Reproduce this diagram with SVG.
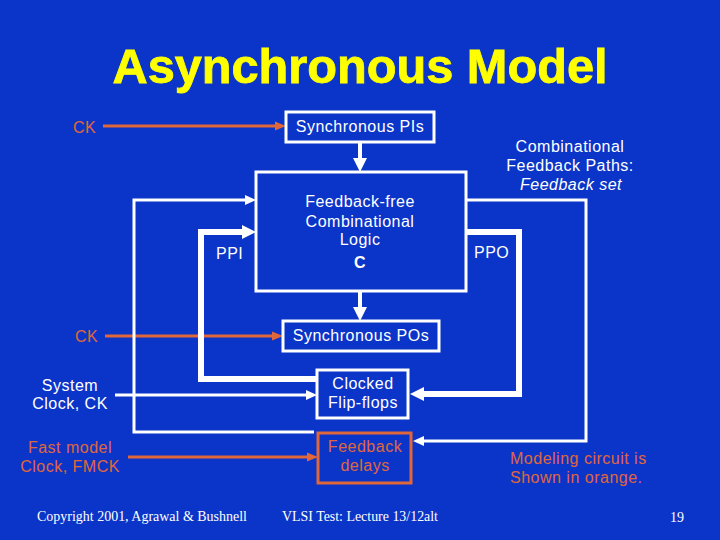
<svg xmlns="http://www.w3.org/2000/svg" width="720" height="540" viewBox="0 0 720 540">
<style>
.t{font-family:"Liberation Sans",Arial,sans-serif;font-size:16px;letter-spacing:0.5px;fill:#fff}
.o{fill:#E0673A}
.m{text-anchor:middle}
.box{fill:none;stroke:#fff;stroke-width:3}
.obox{fill:none;stroke:#E0673A;stroke-width:3}
.w{fill:none;stroke:#fff;stroke-linejoin:miter}
.or{fill:none;stroke:#E0673A;stroke-width:3}
.f{font-family:"Liberation Serif","Times New Roman",serif;font-size:14px;fill:#fff}
</style>
<defs>
<marker id="aw" markerUnits="userSpaceOnUse" markerWidth="11" markerHeight="10" refX="0" refY="5" orient="auto" overflow="visible"><path d="M0,0 L11,5 L0,10 z" fill="#fff"/></marker>
<marker id="awb" markerUnits="userSpaceOnUse" markerWidth="14" markerHeight="14" refX="0" refY="7" orient="auto" overflow="visible"><path d="M0,0 L14,7 L0,14 z" fill="#fff"/></marker>
<marker id="ao" markerUnits="userSpaceOnUse" markerWidth="11" markerHeight="9" refX="0" refY="4.5" orient="auto" overflow="visible"><path d="M0,0 L11,4.5 L0,9 z" fill="#E0673A"/></marker>
</defs>
<rect x="0" y="0" width="720" height="540" fill="#0B35C8"/>
<text x="360" y="83" text-anchor="middle" font-family="Liberation Sans,Arial,sans-serif" font-weight="bold" font-size="48" fill="#FFFF00" stroke="#FFFF00" stroke-width="0.8" textLength="495" lengthAdjust="spacingAndGlyphs">Asynchronous Model</text>

<g id="connectors">
<path class="or" d="M103,126 H275" marker-end="url(#ao)"/>
<path class="or" d="M105,336 H272" marker-end="url(#ao)"/>
<path class="or" d="M128,457 H307" marker-end="url(#ao)"/>
<path class="w" stroke-width="4" d="M360,142 V158" marker-end="url(#awb)"/>
<path class="w" stroke-width="4" d="M360,291 V307" marker-end="url(#awb)"/>
<path class="w" stroke-width="3" d="M314,432 H134 V200 H245" marker-end="url(#aw)"/>
<path class="w" stroke-width="3" d="M115,395 H306" marker-end="url(#aw)"/>
<path class="w" stroke-width="6" d="M317,379 H201 V232 H242" marker-end="url(#awb)"/>
<path class="w" stroke-width="6" d="M466,232 H519 V394 H424" marker-end="url(#awb)"/>
<path class="w" stroke-width="3" d="M466,200 H586 V441 H424" marker-end="url(#aw)"/>
</g>

<g id="pis"><rect class="box" x="286" y="112" width="148" height="30"/><text class="t m" x="360" y="132">Synchronous PIs</text></g>
<g id="logic"><rect class="box" x="256" y="172" width="210" height="119"/>
<text class="t m" x="360" y="207">Feedback-free</text>
<text class="t m" x="360" y="227">Combinational</text>
<text class="t m" x="360" y="245">Logic</text>
<text class="t m" x="360" y="268" font-size="18" font-weight="bold">C</text></g>
<g id="pos"><rect class="box" x="283" y="321" width="156" height="30"/><text class="t m" x="361" y="341">Synchronous POs</text></g>
<g id="ff"><rect class="box" x="317" y="370" width="91" height="48"/><text class="t m" x="363" y="389">Clocked</text><text class="t m" x="363" y="408">Flip-flops</text></g>
<g id="fd"><rect class="obox" x="318" y="433" width="93" height="50"/><text class="t o m" x="365" y="452">Feedback</text><text class="t o m" x="365" y="471">delays</text></g>

<g id="labels">
<text class="t o" x="73" y="133">CK</text>
<text class="t o" x="75" y="342">CK</text>
<text class="t" x="216" y="259">PPI</text>
<text class="t" x="474" y="258">PPO</text>
<text class="t m" x="570" y="152">Combinational</text>
<text class="t m" x="570" y="171">Feedback Paths:</text>
<text class="t m" x="571" y="190" font-style="italic">Feedback set</text>
<text class="t m" x="70" y="391">System</text>
<text class="t m" x="70" y="409">Clock, CK</text>
<text class="t o m" x="70" y="453">Fast model</text>
<text class="t o m" x="70" y="472">Clock, FMCK</text>
<text class="t o" x="510" y="464">Modeling circuit is</text>
<text class="t o" x="510" y="483">Shown in orange.</text>
</g>
<text class="f" x="37" y="521" textLength="210" lengthAdjust="spacingAndGlyphs">Copyright 2001, Agrawal &amp; Bushnell</text>
<text class="f" x="282" y="521" textLength="156" lengthAdjust="spacingAndGlyphs">VLSI Test: Lecture 13/12alt</text>
<text class="f" x="670" y="522">19</text>
</svg>
